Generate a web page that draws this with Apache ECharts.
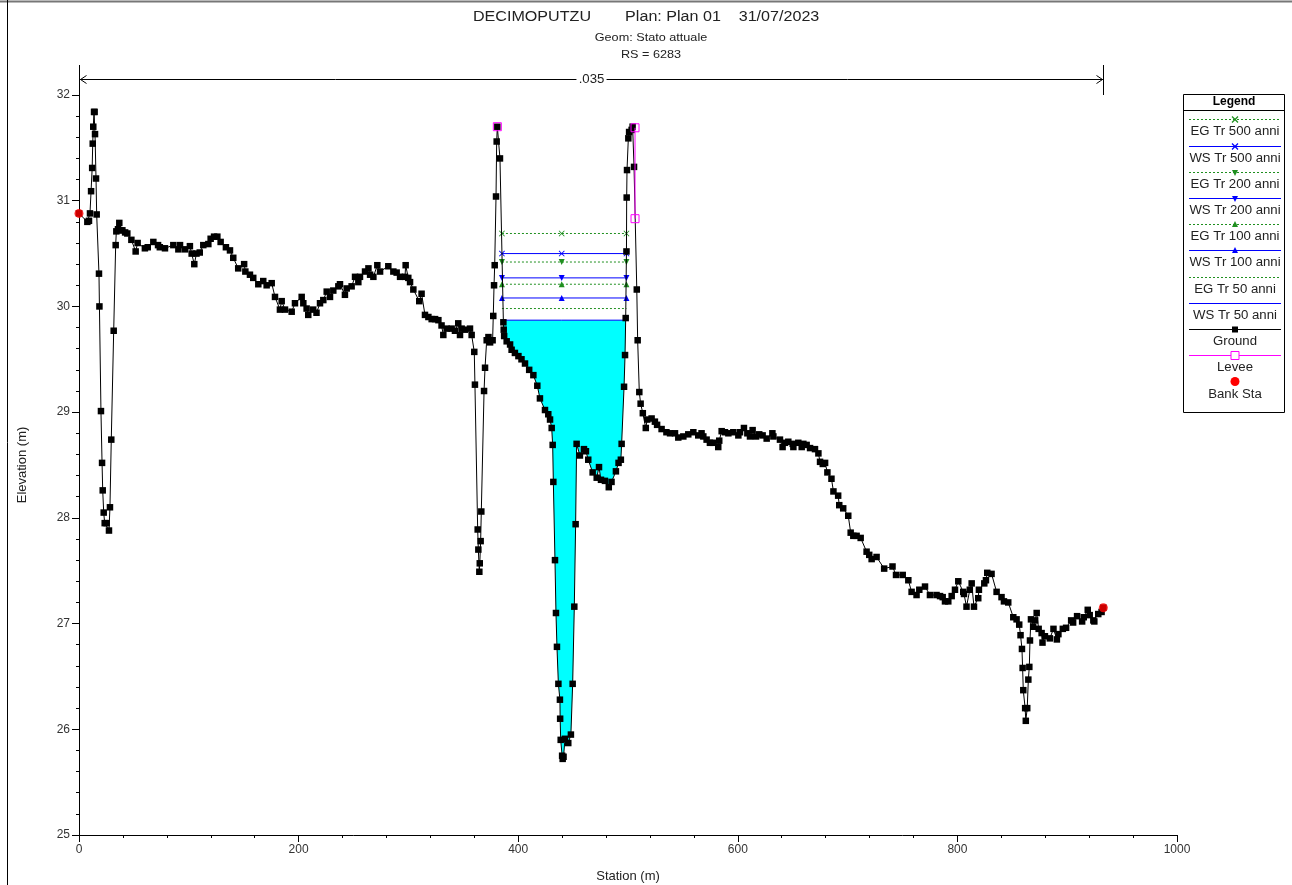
<!DOCTYPE html>
<html>
<head>
<meta charset="utf-8">
<script src="https://cdn.jsdelivr.net/npm/echarts@6/dist/echarts.min.js"></script>
<style>
html,body{margin:0;padding:0;background:#fff;}
#chart{width:1292px;height:885px;}
</style>
</head>
<body>
<div id="chart"></div>
<script>
// ---------------- DATA ----------------
const groundStation = [
0,7.6,9.1,10.0,11.0,12.0,12.5,13.0,13.7,14.2,14.6,15.5,16.1,18.2,18.6,20.0,21.0,21.6,22.5,23.4,25.2,27.3,28.2,29.4,31.6,33.4,34.0,35.5,36.7,37.5,39.5,42.0,44.0,47.7,51.6,53.4,60.0,62.6,67.7,72.0,73.6,78.3,85.9,90.5,92.0,96.5,101.0,102.6,105.0,107.0,110.0,113.2,117.8,119.9,123.0,126.0,129.0,133.8,137.5,140.5,145.0,150.4,151.5,155.7,158.7,163.3,167.8,170.9,175.5,178.5,183.0,184.6,187.6,193.7,196.7,202.8,204.3,207.3,208.8,213.3,216.3,219.5,222.5,225.6,228.6,231.6,236.2,237.7,242.2,243.8,248.3,251.4,254.4,255.9,260.5,263.6,265.1,268.1,271.7,274.2,281.7,286.3,289.3,292.4,296.9,297.5,299.9,301.5,304.5,309.9,312.0,315.1,318.2,321.2,324.3,327.3,330.2,331.8,334.8,339.4,342.4,345.4,347.0,348.5,351.5,356.1,357.6,360.0,360.6,363.1,363.7,364.6,365.0,365.8,366.4,368.9,369.8,371.3,372.9,374.4,376.7,377.3,378.0,378.6,379.8,380.4,381.0,383.4,386.5,386.8,387.2,389.5,392.6,394.0,397.0,400.2,403.0,406.2,410.0,413.8,417.4,419.8,424.4,427.4,429.0,430.5,431.4,432.0,433.5,434.4,435.3,436.6,438.0,438.2,438.7,440.0,440.5,441.3,442.6,445.6,448.0,449.6,451.1,452.3,453.2,456.2,459.9,461.7,463.8,467.8,471.5,473.6,475.4,479.0,482.5,485.0,489.0,491.4,493.5,494.2,496.4,497.3,497.9,498.6,498.8,499.1,500.3,501.0,503.3,504.2,505.5,508.0,508.8,510.3,511.5,513.5,516.2,517.5,521.5,524.5,526.5,530.6,535.0,538.3,542.8,545.8,550.4,554.9,559.5,564.0,567.0,568.6,571.6,574.6,577.7,582.2,583.1,585.3,588.3,591.4,595.9,600.5,602.0,605.6,608.7,611.1,613.5,616.6,619.5,622.6,626.3,631.5,632.4,638.4,640.8,643.0,646.0,650.0,650.6,655.1,658.2,659.7,662.7,665.8,670.3,673.4,674.9,677.4,679.5,681.6,685.3,687.1,691.4,692.4,696.0,700.6,702.8,705.2,708.2,711.9,717.3,719.7,721.9,726.4,733.3,740.9,744.1,750.2,755.3,758.3,762.8,765.3,770.5,775.0,781.0,784.2,786.6,788.7,791.7,794.8,797.8,800.8,805.3,806.0,808.3,811.3,813.0,815.1,819.0,819.6,824.5,826.0,827.2,831.1,835.7,840.2,842.4,846.3,850.9,853.9,856.3,857.5,858.8,859.4,860.0,861.7,862.3,863.6,864.6,865.5,866.1,867.0,869.0,870.8,872.2,874.0,876.7,877.5,879.7,884.2,887.5,890.6,892.0,896.0,899.0,903.6,905.4,909.0,913.6,915.1,918.7,920.5,923.8,924.7,928.3,931.3,932.9
];
const groundElevation = [
30.88,30.80,30.81,30.88,31.09,31.31,31.54,31.70,31.84,31.84,31.63,31.21,30.87,30.31,30.00,29.01,28.52,28.26,28.05,27.95,27.95,27.88,28.10,28.74,29.77,30.58,30.71,30.73,30.79,30.72,30.72,30.70,30.69,30.63,30.52,30.60,30.55,30.56,30.61,30.58,30.56,30.55,30.58,30.54,30.58,30.54,30.57,30.50,30.40,30.50,30.51,30.58,30.59,30.64,30.66,30.66,30.61,30.56,30.53,30.46,30.36,30.40,30.33,30.30,30.27,30.21,30.24,30.20,30.22,30.09,29.97,30.05,29.97,29.95,30.03,30.09,30.03,29.98,29.92,29.97,29.94,30.03,30.06,30.14,30.09,30.15,30.19,30.21,30.11,30.17,30.19,30.28,30.23,30.28,30.33,30.36,30.30,30.28,30.39,30.33,30.38,30.33,30.32,30.28,30.28,30.39,30.27,30.23,30.16,30.05,30.12,29.92,29.90,29.88,29.88,29.87,29.82,29.73,29.79,29.79,29.77,29.84,29.73,29.79,29.78,29.79,29.73,29.57,29.26,27.89,27.70,27.49,27.57,27.78,28.06,29.20,29.42,29.68,29.71,29.66,29.68,29.91,30.20,30.39,31.04,31.56,31.70,31.40,29.85,29.78,29.72,29.67,29.64,29.59,29.56,29.53,29.50,29.46,29.40,29.35,29.25,29.13,29.02,28.98,28.93,28.85,28.69,28.34,27.60,27.10,26.78,26.43,26.28,26.10,25.90,25.75,25.72,25.74,25.91,25.87,25.95,26.43,27.16,27.94,28.70,28.59,28.65,28.63,28.55,28.43,28.38,28.48,28.36,28.35,28.29,28.34,28.44,28.52,28.55,28.70,29.24,29.54,29.89,30.52,31.03,31.29,31.59,31.65,31.67,31.70,31.32,30.16,29.68,29.19,29.08,28.99,28.85,28.93,28.94,28.91,28.88,28.84,28.81,28.80,28.80,28.76,28.77,28.79,28.81,28.78,28.80,28.77,28.74,28.71,28.71,28.67,28.73,28.82,28.81,28.80,28.81,28.78,28.81,28.85,28.80,28.77,28.83,28.77,28.79,28.78,28.75,28.80,28.77,28.74,28.67,28.71,28.72,28.70,28.67,28.71,28.67,28.70,28.69,28.66,28.65,28.61,28.53,28.51,28.52,28.43,28.37,28.25,28.21,28.12,28.09,28.02,27.86,27.83,27.83,27.81,27.68,27.65,27.61,27.63,27.52,27.54,27.46,27.46,27.41,27.30,27.27,27.32,27.35,27.27,27.27,27.26,27.25,27.21,27.21,27.26,27.32,27.40,27.30,27.28,27.16,27.32,27.38,27.16,27.24,27.32,27.38,27.41,27.48,27.47,27.30,27.25,27.21,27.20,27.06,27.04,26.99,26.89,26.76,26.58,26.37,26.20,26.08,26.20,26.47,26.59,26.84,27.04,26.97,27.03,27.10,26.95,26.91,26.82,26.88,26.86,26.95,26.85,26.90,26.95,26.96,27.03,27.01,27.07,27.02,27.06,27.13,27.08,27.03,27.02,27.09,27.11,27.15
];

// water surface profiles (elevation, m)
const profileNames = ['EG Tr 500 anni','WS Tr 500 anni','EG Tr 200 anni','WS Tr 200 anni','EG Tr 100 anni','WS Tr 100 anni','EG Tr 50 anni','WS Tr 50 anni'];
const profileLevels = [30.69, 30.50, 30.42, 30.27, 30.21, 30.08, 29.98, 29.87];
const profileStations = [385.2, 439.6, 498.6];   // left end, marker, right end
const waterEdges = [386.5, 497.9];                // WS Tr 50 anni edges

const leveeLeft = [[381.0, 31.70]];
const leveeRight = [[506.4, 31.69], [506.4, 30.83]];
const bankStations = [[0, 30.88], [932.9, 27.15]];

const nValueStations = [0, 932.6];
const nValueLabel = '.035';

const xTicks = {min: 0, max: 1000, interval: 200};
const yTicks = {min: 25, max: 32, interval: 1};

const titleMain = ['DECIMOPUTZU', 'Plan: Plan 01', '31/07/2023'];
const titleSub = ['Geom: Stato attuale', 'RS = 6283'];

// ---------------- BUILD ----------------
const FONT = '"Liberation Sans", Arial, sans-serif';
const ground = groundStation.map((s, i) => [s, groundElevation[i]]);

// water polygon: surface edge + ground points between edges
const ws50 = profileLevels[7];
const waterPoly = [[waterEdges[0], ws50]]
  .concat(ground.filter(p => p[0] > waterEdges[0] && p[0] < waterEdges[1]))
  .concat([[waterEdges[1], ws50]]);

const X_PATH = 'path://M0,1L1,0L5,4L9,0L10,1L6,5L10,9L9,10L5,6L1,10L0,9L4,5Z';
const GREEN = '#1f8f1f', BLUE = '#0000ff';
const profileStyle = [
  {c: GREEN, dash: [2, 2], sym: X_PATH, rot: 0},
  {c: BLUE, dash: 'solid', sym: X_PATH, rot: 0},
  {c: GREEN, dash: [2, 2], sym: 'triangle', rot: 180},
  {c: BLUE, dash: 'solid', sym: 'triangle', rot: 180},
  {c: GREEN, dash: [2, 2], sym: 'triangle', rot: 0},
  {c: BLUE, dash: 'solid', sym: 'triangle', rot: 0},
  {c: GREEN, dash: [2, 2], sym: 'none', rot: 0},
  {c: BLUE, dash: 'solid', sym: 'none', rot: 0}
];

const series = [];
series.push({
  type: 'custom', name: 'water', silent: true, z: 1,
  data: waterPoly,
  encode: {x: 0, y: 1},
  renderItem: function (params, api) {
    if (params.dataIndex !== 0) return null;
    const pts = waterPoly.map(p => api.coord(p));
    return {type: 'polygon', shape: {points: pts}, style: {fill: '#00ffff', stroke: null}};
  }
});
profileNames.forEach((nm, i) => {
  const st = profileStyle[i];
  series.push({
    type: 'line', name: nm, z: 3,
    data: profileStations.map(s => [s, profileLevels[i]]),
    symbol: st.sym, symbolSize: 6, symbolRotate: st.rot, showAllSymbol: true,
    lineStyle: {color: st.c, width: 1, type: st.dash},
    itemStyle: {color: st.c},
    silent: true
  });
});
series.push({
  type: 'line', name: 'Ground', z: 4,
  data: ground, symbol: 'rect', symbolSize: 6.5, showAllSymbol: true,
  lineStyle: {color: '#000', width: 1}, itemStyle: {color: '#000'}, silent: true
});
[leveeLeft, leveeRight].forEach(d => {
  series.push({
    type: 'line', name: 'Levee', z: 5, data: d,
    symbol: 'rect', symbolSize: 8, showAllSymbol: true,
    lineStyle: {color: '#ff00ff', width: 1},
    itemStyle: {color: 'rgba(0,0,0,0)', borderColor: '#ff00ff', borderWidth: 1}, silent: true
  });
});
series.push({
  type: 'scatter', name: 'Bank Sta', z: 6, data: bankStations,
  symbol: 'circle', symbolSize: 9, itemStyle: {color: '#ff0000'}, silent: true
});

const axisCommon = {
  axisLine: {show: true, lineStyle: {color: '#000', width: 1}},
  axisTick: {show: true, length: 7, lineStyle: {color: '#000'}},
  minorTick: {show: true, splitNumber: 5, length: 3, lineStyle: {color: '#000'}},
  splitLine: {show: false},
  minorSplitLine: {show: false},
  axisLabel: {color: '#333', fontSize: 12, fontFamily: FONT, margin: 9, formatter: v => String(v)},
  nameLocation: 'middle',
  nameTextStyle: {color: '#222', fontSize: 13, fontFamily: FONT}
};

const chart = echarts.init(document.getElementById('chart'), null, {renderer: 'canvas'});
chart.setOption({
  animation: false,
  backgroundColor: '#fff',
  grid: {left: 79, right: 115, top: 95, bottom: 50, containLabel: false, outerBoundsMode: 'none'},
  xAxis: Object.assign({type: 'value', name: 'Station (m)', nameGap: 35}, xTicks, axisCommon),
  yAxis: Object.assign({type: 'value', name: 'Elevation (m)', nameGap: 50}, yTicks, axisCommon),
  series: series
});

// ---------------- DECORATIONS ----------------
function buildGraphics() {
  const g = [];
  // frame
  g.push({type: 'line', shape: {x1: 0, y1: 1.5, x2: 1292, y2: 1.5}, style: {stroke: '#777', lineWidth: 2}, silent: true});
  g.push({type: 'line', shape: {x1: 7.5, y1: 0, x2: 7.5, y2: 885}, style: {stroke: '#000', lineWidth: 1}, silent: true});
  // titles
  const tx = [532, 673, 779];
  titleMain.forEach((t, i) => g.push({type: 'text', x: tx[i], y: 17.5, scaleX: 1.15,
    style: {text: t, align: 'center', verticalAlign: 'middle', fontSize: 14, fontFamily: FONT, fill: '#222'}}));
  const sy = [37.5, 55];
  titleSub.forEach((t, i) => g.push({type: 'text', x: 651, y: sy[i], scaleX: 1.15,
    style: {text: t, align: 'center', verticalAlign: 'middle', fontSize: 11, fontFamily: FONT, fill: '#222'}}));

  // Manning's n bar
  const pL = chart.convertToPixel({gridIndex: 0}, [nValueStations[0], yTicks.max]);
  const pR = chart.convertToPixel({gridIndex: 0}, [nValueStations[1], yTicks.max]);
  const yTop = pL[1];
  const yl = Math.round(yTop - 16) + 0.5;
  const xl = Math.round(pL[0]) + 0.5, xr = Math.round(pR[0]) + 0.5;
  [xl, xr].forEach(x => g.push({type: 'line', shape: {x1: x, y1: yTop - 30, x2: x, y2: yTop}, style: {stroke: '#000', lineWidth: 1}, silent: true}));
  g.push({type: 'line', shape: {x1: xl, y1: yl, x2: xr, y2: yl}, style: {stroke: '#000', lineWidth: 1}, silent: true});
  g.push({type: 'polyline', shape: {points: [[xl + 7, yl - 4], [xl + 1, yl], [xl + 7, yl + 4]]}, style: {stroke: '#000', lineWidth: 1, fill: null}, silent: true});
  g.push({type: 'polyline', shape: {points: [[xr - 7, yl - 4], [xr - 1, yl], [xr - 7, yl + 4]]}, style: {stroke: '#000', lineWidth: 1, fill: null}, silent: true});
  g.push({type: 'text', x: (xl + xr) / 2, y: yl, scaleX: 1.1,
    style: {text: nValueLabel, align: 'center', verticalAlign: 'middle', fontSize: 12, fontFamily: FONT, fill: '#222',
      backgroundColor: '#fff', padding: [0, 2]}});

  // legend
  const LX = 1183.5, LY = 94.5, LW = 101, LH = 318;
  const cx = LX + LW / 2;
  g.push({type: 'rect', shape: {x: LX, y: LY, width: LW, height: LH}, style: {stroke: '#000', lineWidth: 1, fill: '#fff'}, z: 10, silent: true});
  g.push({type: 'text', x: cx, y: 101.5, z: 11, style: {text: 'Legend', align: 'center', verticalAlign: 'middle', fontSize: 12, fontWeight: 'bold', fontFamily: FONT, fill: '#000'}});
  g.push({type: 'line', z: 11, shape: {x1: LX, y1: 110.5, x2: LX + LW, y2: 110.5}, style: {stroke: '#000', lineWidth: 1}, silent: true});
  const legItems = profileNames.map((n, i) => ({name: n, c: profileStyle[i].c, dash: profileStyle[i].dash, mk: ['x','x','down','down','up','up','none','none'][i]}));
  legItems.push({name: 'Ground', c: '#000', dash: 'solid', mk: 'sq'});
  legItems.push({name: 'Levee', c: '#ff00ff', dash: 'solid', mk: 'osq'});
  legItems.push({name: 'Bank Sta', c: '#ff0000', dash: null, mk: 'dot'});
  const x1 = 1189, x2 = 1281, mx = 1235;
  legItems.forEach((it, i) => {
    const ly = Math.round(119.3 + i * 26.2) + 0.5;
    if (it.dash) {
      g.push({type: 'line', z: 11, shape: {x1: x1, y1: ly, x2: x2, y2: ly},
        style: {stroke: it.c, lineWidth: 1, lineDash: Array.isArray(it.dash) ? it.dash : null}, silent: true});
    }
    const s = 3;
    if (it.mk === 'x') {
      g.push({type: 'polyline', z: 12, shape: {points: [[mx - s, ly - s], [mx + s, ly + s]]}, style: {stroke: it.c, lineWidth: 1.3}});
      g.push({type: 'polyline', z: 12, shape: {points: [[mx - s, ly + s], [mx + s, ly - s]]}, style: {stroke: it.c, lineWidth: 1.3}});
    } else if (it.mk === 'up') {
      g.push({type: 'polygon', z: 12, shape: {points: [[mx, ly - s - 0.5], [mx + s, ly + s - 0.5], [mx - s, ly + s - 0.5]]}, style: {fill: it.c}});
    } else if (it.mk === 'down') {
      g.push({type: 'polygon', z: 12, shape: {points: [[mx, ly + s + 0.5], [mx + s, ly - s + 0.5], [mx - s, ly - s + 0.5]]}, style: {fill: it.c}});
    } else if (it.mk === 'sq') {
      g.push({type: 'rect', z: 12, shape: {x: mx - 3, y: ly - 3, width: 6, height: 6}, style: {fill: '#000'}});
    } else if (it.mk === 'osq') {
      g.push({type: 'rect', z: 12, shape: {x: mx - 4, y: ly - 4, width: 8, height: 8}, style: {fill: '#fff', stroke: it.c, lineWidth: 1}});
    } else if (it.mk === 'dot') {
      g.push({type: 'circle', z: 12, shape: {cx: mx, cy: ly, r: 4.5}, style: {fill: it.c}});
    }
    const ty = it.mk === 'dot' ? ly + 13.5 : ly + 12.3;
    g.push({type: 'text', x: mx, y: ty, z: 12, scaleX: 1.1,
      style: {text: it.name, align: 'center', verticalAlign: 'middle', fontSize: 12, fontFamily: FONT, fill: '#222'}});
  });
  return g;
}
chart.setOption({graphic: buildGraphics()});
</script>
</body>
</html>
